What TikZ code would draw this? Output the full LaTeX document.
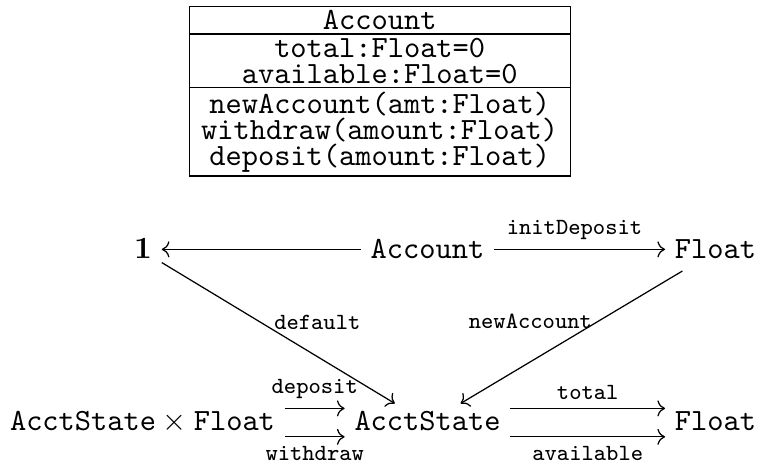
\documentclass[tikz,border=0pt]{standalone}
\usetikzlibrary{arrows.meta,shapes.multipart}
\begin{document}
\begin{tikzpicture}[x=0.3236pt, y=-0.3236pt,
  obj/.style={font=\ttfamily, text height=6.4pt, text depth=2pt,
              inner xsep=3pt, inner ysep=2pt, anchor=base},
  lbl/.style={font=\fontsize{7.5}{9}\selectfont\ttfamily, inner sep=2.8pt},
  arr/.style={-{Computer Modern Rightarrow}, line width=0.4pt},
  umlclass/.style={rectangle split, rectangle split parts=3, draw,
              line width=0.4pt, align=center,
              font=\ttfamily\fontsize{10}{8.4}\selectfont,
              inner xsep=3.9pt, inner ysep=1.1pt, anchor=north}]
\useasboundingbox (0,0) rectangle (757,464);

% UML class box
\node[umlclass] (cls) at (379.7,6)
  {Account
   \nodepart{two} total:Float=0\\available:Float=0
   \nodepart{three} newAccount(amt:Float)\\withdraw(amount:Float)\\deposit(amount:Float)};

% objects of the diagram
\node[obj] (one)  at (143,258)   {$\mathbf{1}$};
\node[obj] (acc)  at (427.5,258) {Account};
\node[obj] (fla)  at (715.5,258) {Float};
\node[obj] (prod) at (142.5,430) {$\texttt{AcctState}\times\texttt{Float}$};
\node[obj] (ast)  at (427.5,430) {AcctState};
\node[obj] (flb)  at (715.5,430) {Float};

% top row
\draw[arr] ([yshift=0.6pt]acc.west) -- ([yshift=0.6pt]one.east);
\draw[arr] ([yshift=0.6pt]acc.east) -- node[lbl, above, pos=0.47] {initDeposit} ([yshift=0.6pt]fla.west);

% diagonals
\draw[arr] (one) -- node[lbl, pos=0.48, anchor=south west, inner sep=0pt] {default} (ast);
\draw[arr] (fla) -- node[lbl, pos=0.44, anchor=south east, inner sep=0pt, xshift=2.5pt] {newAccount} (ast);

% bottom row
\draw[arr] ([yshift=4.8pt]prod.east) -- node[lbl, above] {deposit} ([yshift=4.8pt]ast.west);
\draw[arr] ([yshift=-4.4pt]prod.east) -- node[lbl, below] {withdraw} ([yshift=-4.4pt]ast.west);
\draw[arr] ([yshift=4.8pt]ast.east) -- node[lbl, above] {total} ([yshift=4.8pt]flb.west);
\draw[arr] ([yshift=-4.4pt]ast.east) -- node[lbl, below] {available} ([yshift=-4.4pt]flb.west);
\end{tikzpicture}
\end{document}
